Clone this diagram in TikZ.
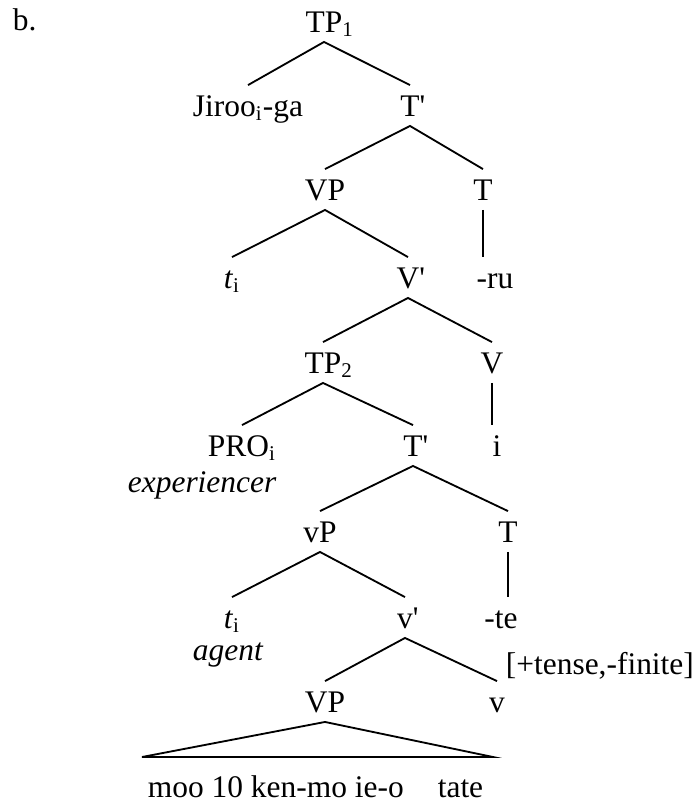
\documentclass[tikz,border=0pt]{standalone}
\usepackage{fontspec}
\setmainfont{Liberation Serif}
\newcommand{\pr}{\textquotesingle}
\begin{document}
\begin{tikzpicture}
[x=0.3817pt,y=-0.3817pt,line width=0.7pt,
 cat/.style={inner sep=0pt,outer ysep=3.8pt,text height=8pt,text depth=0pt,anchor=base,font=\fontsize{12}{14}\selectfont},
 note/.style={inner sep=0pt,anchor=base west,font=\fontsize{12}{14}\selectfont}]
\useasboundingbox (0,0) rectangle (695,803);
\node[note] (lbl) at (12,30) {b.};
\node[cat] (tp1) at (324,32) {TP\rlap{\textsubscript{1}}};
\node[cat] (jiroo) at (248,116) {Jiroo\textsubscript{i}-ga};
\node[cat] (tbar1) at (410,116) {T\rlap{\pr}};
\node[cat] (vp1) at (325,200) {VP};
\node[cat] (t1) at (483,200) {T};
\node[cat] (ti1) at (232,288) {\textit{t}\textsubscript{i}};
\node[cat] (vbar) at (408,288) {V\rlap{\pr}};
\node[cat] (ru) at (495,288) {-ru};
\node[cat] (tp2) at (323,373) {TP\rlap{\textsubscript{2}}};
\node[cat] (v) at (492,373) {V};
\node[cat] (pro) at (242,456) {PRO\textsubscript{i}};
\node[cat] (tbar2) at (413,456) {T\rlap{\pr}};
\node[cat] (i) at (497,456) {i};
\node[note] (exp) at (127,492) {\textit{experiencer}};
\node[cat] (vsp) at (320,542) {vP};
\node[cat] (t2) at (508,542) {T};
\node[cat] (ti2) at (232,628) {\textit{t}\textsubscript{i}};
\node[cat] (vsbar) at (405,628) {v\rlap{\pr}};
\node[cat] (te) at (501,628) {-te};
\node[note] (agent) at (192,660) {\textit{agent}};
\node[note] (feat) at (505,674) {[+tense,-finite]};
\node[cat] (vp2) at (325,712) {VP};
\node[cat] (vs) at (497,712) {v};
\node[note] (words) at (147,797) {moo 10 ken-mo ie-o\hspace{13pt}tate};
\coordinate (tl) at (142,757);
\coordinate (tr) at (493,757);
\draw (jiroo.north) -- (tp1.south) -- (tbar1.north);
\draw (vp1.north) -- (tbar1.south) -- (t1.north);
\draw (ti1.north) -- (vp1.south) -- (vbar.north);
\draw (t1.south) -- (t1.south |- ru.north);
\draw (tp2.north) -- (vbar.south) -- (v.north);
\draw (v.south) -- (v.south |- i.north);
\draw (pro.north) -- (tp2.south) -- (tbar2.north);
\draw (vsp.north) -- (tbar2.south) -- (t2.north);
\draw (ti2.north) -- (vsp.south) -- (vsbar.north);
\draw (t2.south) -- (t2.south |- te.north);
\draw (vp2.north) -- (vsbar.south) -- (vs.north);
\draw (tl) -- (vp2.south) -- (tr) -- cycle;
\end{tikzpicture}
\end{document}
